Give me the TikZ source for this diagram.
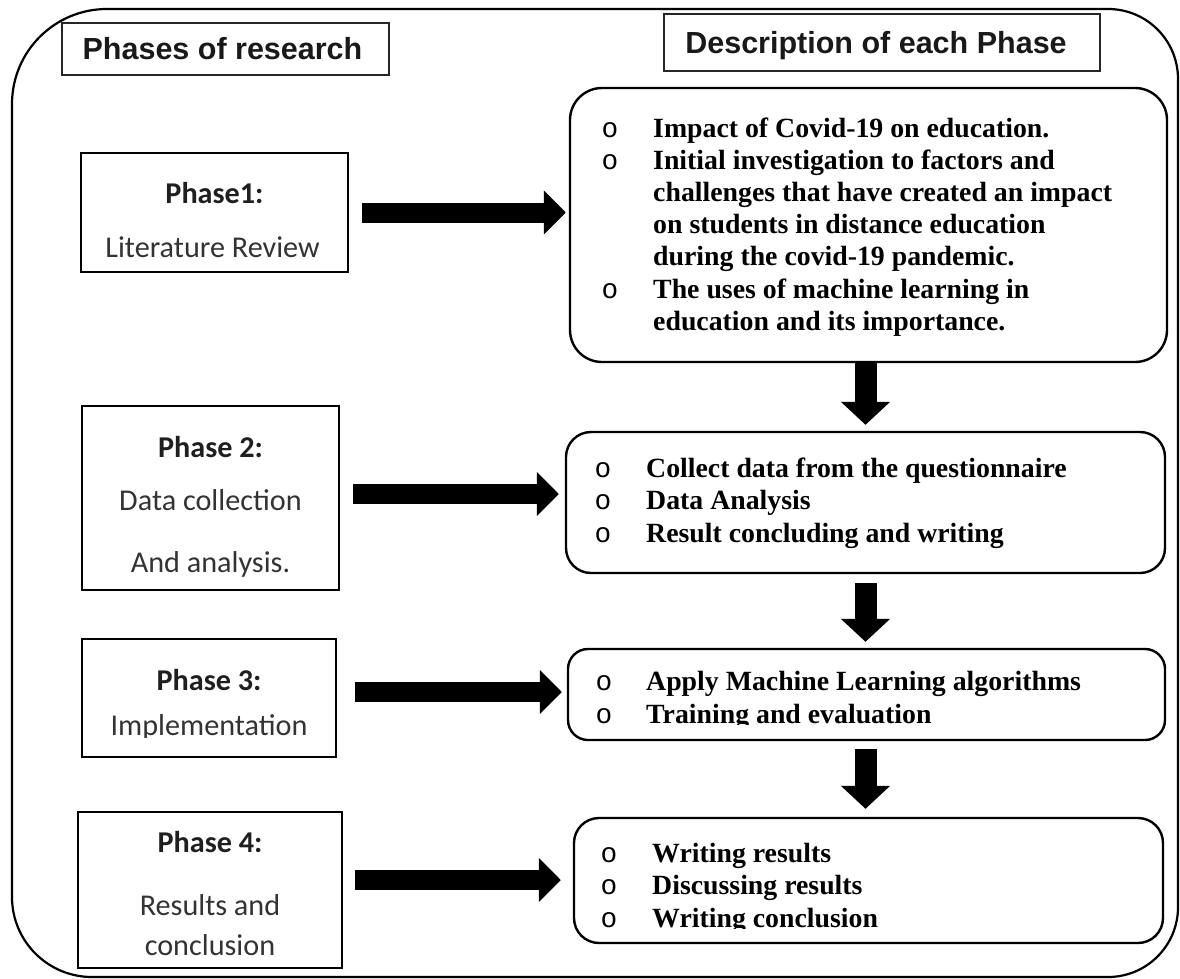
\documentclass[tikz,border=0pt]{standalone}
\usepackage{fontspec}
\setmainfont{Liberation Serif}
\newfontfamily\hdfont{Liberation Sans}
\newfontfamily\clfont{Carlito}
\newfontfamily\mofont{Liberation Mono}
\usetikzlibrary{arrows.meta}
\begin{document}
\begin{tikzpicture}[x=1pt,y=-1pt,
  frame/.style={line width=2.2pt},
  hbox/.style={draw=black!85, line width=1.1pt, inner sep=0pt, rectangle},
  pbox/.style={draw, line width=2.4pt, inner sep=0pt, rectangle},
  dbox/.style={draw, line width=2.4pt, inner sep=0pt, rectangle, rounded corners=25pt},
  htext/.style={font=\hdfont\bfseries\fontsize{30.5}{36}\selectfont, inner sep=0pt, anchor=base, text=black!90},
  ptitle/.style={font=\clfont\bfseries\fontsize{30.2}{36}\selectfont, inner sep=0pt, anchor=base, text=black!88},
  pbody/.style={font=\clfont\fontsize{30.2}{36}\selectfont, inner sep=0pt, anchor=base, text=black!80},
  dtext/.style={font=\bfseries\fontsize{27.8}{32}\selectfont, inner sep=0pt, anchor=base west},
  dbul/.style={font=\mofont\fontsize{27.8}{32}\selectfont, inner sep=0pt, anchor=base},
  harrow/.style={line width=20pt, -{Triangle[length=22pt,width=43pt]}},
  varrow/.style={line width=22pt, -{Triangle[length=23pt,width=48pt]}}]
\useasboundingbox (0,0) rectangle (1180,979);

% outer frame
\draw[frame] (107,9) -- (1108,9) .. controls (1146.7,9) and (1178,40.3) .. (1178,79)
  -- (1178,907) .. controls (1178,945.7) and (1146.7,977) .. (1108,977)
  -- (92,977) .. controls (47.8,977) and (12,941.2) .. (12,897)
  -- (12,104) .. controls (12,51.5) and (54.5,9) .. (107,9) -- cycle;

% headers
\node[hbox, minimum width=327pt, minimum height=52pt] (hL) at (225.5,49) {};
\node[htext] (hLt) at (222.5,60) {Phases of research};
\node[hbox, minimum width=436pt, minimum height=57pt] (hR) at (882,42.5) {};
\node[htext] (hRt) at (876,53.5) {Description of each Phase};

% phase boxes
\node[pbox, minimum width=267pt, minimum height=119pt] (p1) at (214.5,212.5) {};
\node[ptitle] (p1a) at (214.5,203) {Phase1:};
\node[pbody] (p1b) at (212.5,257) {Literature Review};

\node[pbox, minimum width=257pt, minimum height=184pt] (p2) at (210.5,498) {};
\node[ptitle] (p2a) at (210.5,457) {Phase 2:};
\node[pbody] (p2b) at (210.5,510) {Data collection};
\node[pbody] (p2c) at (210.5,572) {And analysis.};

\node[pbox, minimum width=254pt, minimum height=118pt] (p3) at (209,698) {};
\node[ptitle] (p3a) at (209,690) {Phase 3:};
\begin{scope}
\clip (90,700) rectangle (330,737.5);
\node[pbody] (p3b) at (209,735) {Implementation};
\end{scope}

\node[pbox, minimum width=264pt, minimum height=156pt] (p4) at (210,890) {};
\node[ptitle] (p4a) at (210,852) {Phase 4:};
\node[pbody] (p4b) at (210,915) {Results and};
\node[pbody] (p4c) at (210,955) {conclusion};

% description boxes
\node[dbox, rounded corners=32pt, minimum width=597pt, minimum height=274pt] (d1) at (868.5,225) {};
\node[dbul] (d1b1) at (610,137) {o};
\node[dtext] (d1t1) at (653,137) {Impact of Covid-19 on education.};
\node[dbul] (d1b2) at (610,169.2) {o};
\node[dtext] (d1t2) at (653,169.2) {Initial investigation to factors and};
\node[dtext] (d1t3) at (653,201.4) {challenges that have created an impact};
\node[dtext] (d1t4) at (653,233.6) {on students in distance education};
\node[dtext] (d1t5) at (653,265.8) {during the covid-19 pandemic.};
\node[dbul] (d1b6) at (610,298) {o};
\node[dtext] (d1t6) at (653,298) {The uses of machine learning in};
\node[dtext] (d1t7) at (653,330.2) {education and its importance.};

\node[dbox, minimum width=599pt, minimum height=141pt] (d2) at (865.5,502.5) {};
\node[dbul] (d2b1) at (603,477) {o};
\node[dtext] (d2t1) at (646,477) {Collect data from the questionnaire};
\node[dbul] (d2b2) at (603,509.5) {o};
\node[dtext] (d2t2) at (646,509.5) {Data Analysis};
\node[dbul] (d2b3) at (603,542) {o};
\node[dtext] (d2t3) at (646,542) {Result concluding and writing};

\node[dbox, rounded corners=20pt, minimum width=597pt, minimum height=91pt] (d3) at (866.5,694.5) {};
\node[dbul] (d3b1) at (604,690) {o};
\node[dtext] (d3t1) at (646,690) {Apply Machine Learning algorithms};
\node[dbul] (d3b2) at (604,723) {o};
\begin{scope}
\clip (630,695) rectangle (1150,724.5);
\node[dtext] (d3t2) at (646,723) {Training and evaluation};
\end{scope}

\node[dbox, minimum width=589pt, minimum height=125pt] (d4) at (868.5,880.5) {};
\node[dbul] (d4b1) at (609,862) {o};
\node[dtext] (d4t1) at (652,862) {Writing results};
\node[dbul] (d4b2) at (609,894.5) {o};
\node[dtext] (d4t2) at (652,894.5) {Discussing results};
\node[dbul] (d4b3) at (609,927) {o};
\begin{scope}
\clip (630,900) rectangle (1150,928.5);
\node[dtext] (d4t3) at (652,927) {Writing conclusion};
\end{scope}

% horizontal arrows
\draw[harrow, shorten <=13pt, shorten >=3pt] (p1.east) -- (p1.east -| d1.west);
\draw[harrow, shorten <=13pt, shorten >=6pt] ([yshift=4pt]p2.east) -- ([yshift=4pt]p2.east -| d2.west);
\draw[harrow, shorten <=18pt, shorten >=5pt] ([yshift=6pt]p3.east) -- ([yshift=6pt]p3.east -| d3.west);
\draw[harrow, shorten <=12pt, shorten >=12pt] ([yshift=10pt]p4.east) -- ([yshift=10pt]p4.east -| d4.west);

% vertical arrows
\draw[varrow, shorten >=6pt] (d2.north |- d1.south) -- (d2.north);
\draw[varrow, shorten <=9pt, shorten >=6pt] (d2.south) -- (d2.south |- d3.north);
\draw[varrow, shorten <=8pt, shorten >=8pt] (d2.south |- d3.south) -- (d2.south |- d4.north);
\end{tikzpicture}
\end{document}
